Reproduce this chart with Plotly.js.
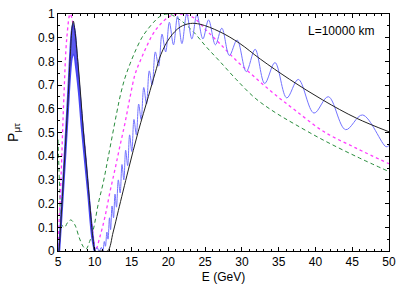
<!DOCTYPE html>
<html><head><meta charset="utf-8">
<script src="https://cdn.plot.ly/plotly-3.0.1.min.js"></script>
<style>html,body{margin:0;padding:0;background:#fff}#c{width:409px;height:286px}</style>
</head><body><div id="c"></div>
<script>
// Black solid curve
const blackE = [5.15, 5.6, 6.0, 6.4, 6.7, 6.9, 7.08, 7.3, 7.7, 8.1, 8.44, 8.9, 9.4, 9.8, 10.05, 10.9, 11.75, 12.5, 13.2, 14.56, 15.9, 17.28, 18.2, 19.0, 20.2, 21.6, 23.0, 24.3, 27.0, 29.7, 32.5, 36.5, 41.0, 45.6, 50.0];
const blackP = [0, 0.23, 0.44, 0.66, 0.84, 0.94, 0.97, 0.93, 0.8, 0.65, 0.51, 0.35, 0.17, 0.04, 0, 0, 0, 0.08, 0.17, 0.342, 0.503, 0.651, 0.75, 0.83, 0.90, 0.945, 0.96, 0.957, 0.925, 0.876, 0.81, 0.724, 0.637, 0.56, 0.503];

// Blue curve: fast oscillation band at low energy (upper / lower envelope)
const blueUpE = [5.1, 5.5, 5.9, 6.3, 6.6, 6.85, 7.05, 7.3, 7.6, 8.0, 8.4, 8.9, 9.4, 9.8, 10.0];
const blueUpP = [0, 0.2, 0.42, 0.64, 0.82, 0.93, 0.96, 0.93, 0.82, 0.66, 0.52, 0.35, 0.17, 0.05, 0];
const blueLoE = [5.2, 5.6, 6.0, 6.4, 6.7, 6.95, 7.15, 7.4, 7.8, 8.2, 8.6, 9.1, 9.6, 9.95];
const blueLoP = [0, 0.19, 0.39, 0.6, 0.75, 0.82, 0.83, 0.78, 0.67, 0.52, 0.39, 0.23, 0.06, 0];

// Blue curve: resolved oscillations (peaks and troughs)
const blueE = [10.0, 10.3, 10.6, 10.9, 11.1, 11.3, 11.45, 11.65, 11.8, 12.0, 12.15, 12.35, 12.55, 12.75, 12.95, 13.2, 13.45, 13.7, 13.95, 14.2, 14.47, 14.74, 15.03, 15.33, 15.65, 15.97, 16.3, 16.66, 17.03, 17.41, 17.8, 18.23, 18.68, 19.14, 19.64, 20.14, 20.7, 21.25, 21.85, 22.5, 23.2, 23.88, 24.7, 25.47, 26.4, 27.27, 28.3, 29.35, 30.6, 31.8, 33.1, 34.5, 36.1, 37.67, 39.8, 41.75, 44.1, 46.4, 49.6, 50.0];
const blueP = [0, 0.015, 0, 0.015, 0, 0.04, 0.02, 0.08, 0.05, 0.14, 0.09, 0.19, 0.14, 0.24, 0.185, 0.30, 0.245, 0.365, 0.30, 0.425, 0.36, 0.49, 0.42, 0.555, 0.49, 0.62, 0.555, 0.69, 0.62, 0.76, 0.70, 0.84, 0.78, 0.915, 0.84, 0.965, 0.87, 0.99, 0.875, 1.0, 0.895, 0.997, 0.895, 0.975, 0.87, 0.94, 0.825, 0.89, 0.757, 0.851, 0.707, 0.795, 0.646, 0.724, 0.582, 0.651, 0.512, 0.574, 0.44, 0.445];

// Green dashed curve
const greenE = [5.0, 5.25, 5.5, 5.9, 6.3, 6.75, 7.3, 7.9, 8.4, 8.8, 9.3, 9.8, 10.48, 11.16, 11.84, 12.97, 13.5, 14.1, 14.8, 15.6, 16.4, 17.06, 18.0, 18.87, 20.0, 21.6, 23.4, 25.2, 27.0, 29.2, 31.8, 34.5, 37.2, 41.07, 45.6, 50.0];
const greenP = [0.47, 0.25, 0.11, 0.1, 0.12, 0.131, 0.11, 0.055, 0.02, 0.008, 0.04, 0.09, 0.2, 0.29, 0.398, 0.581, 0.66, 0.73, 0.79, 0.85, 0.9, 0.93, 0.965, 0.99, 1.0, 0.975, 0.925, 0.86, 0.80, 0.725, 0.645, 0.585, 0.535, 0.468, 0.398, 0.335];

// Magenta dotted curve
const magE = [5.0, 5.4, 5.8, 6.2, 6.65, 7.1, 7.76, 8.2, 8.67, 9.12, 9.58, 9.94, 10.1, 10.7, 11.39, 12.07, 12.75, 13.4, 14.1, 14.8, 15.47, 16.15, 17.0, 17.9, 18.87, 20.2, 21.6, 23.4, 25.2, 27.0, 29.2, 31.7, 34.5, 37.2, 41.07, 45.6, 50.0];
const magP = [0.02, 0.3, 0.65, 0.9, 1.0, 0.95, 0.735, 0.58, 0.426, 0.257, 0.117, 0.03, 0, 0.06, 0.145, 0.25, 0.345, 0.44, 0.539, 0.65, 0.745, 0.8, 0.86, 0.915, 0.955, 0.99, 1.0, 0.985, 0.93, 0.875, 0.805, 0.735, 0.66, 0.595, 0.505, 0.433, 0.368];

const xTicks = [5, 10, 15, 20, 25, 30, 35, 40, 45, 50];
const yTicks = [0, 0.1, 0.2, 0.3, 0.4, 0.5, 0.6, 0.7, 0.8, 0.9, 1];
const labelText = 'L=10000 km';

const blueCol = 'rgb(115,115,255)';
const traces = [
  {x: greenE, y: greenP, mode: 'lines', line: {color: 'rgb(40,140,60)', width: 1, dash: '4px,3px', shape: 'spline'}},
  {x: magE, y: magP, mode: 'lines', line: {color: 'rgb(255,60,255)', width: 1.3, dash: 'dot', shape: 'spline'}},
  {x: blueUpE, y: blueUpP, mode: 'lines', line: {color: 'rgb(70,70,245)', width: 1.5, shape: 'spline'}},
  {x: blueLoE, y: blueLoP, mode: 'lines', fill: 'tonexty', fillcolor: 'rgba(50,50,235,0.8)', line: {color: 'rgb(70,70,245)', width: 1.5, shape: 'spline'}},
  {x: blueE, y: blueP, mode: 'lines', line: {color: blueCol, width: 1, shape: 'spline'}},
  {x: blackE, y: blackP, mode: 'lines', line: {color: '#222', width: 1, shape: 'spline'}}
];

const font = {family: '"Liberation Sans", Arial, sans-serif', size: 12, color: '#000'};
const layout = {
  width: 409, height: 286,
  margin: {l: 58, r: 20, t: 14, b: 35},
  showlegend: false,
  paper_bgcolor: '#fff', plot_bgcolor: '#fff',
  font: font,
  xaxis: {
    range: [5, 50], tickvals: xTicks, ticktext: xTicks.map(String),
    ticks: 'inside', ticklen: 4, tickcolor: '#000', showgrid: false, zeroline: false,
    showline: true, mirror: 'ticks', linecolor: '#000', linewidth: 1,
    minor: {dtick: 1, ticks: 'inside', ticklen: 2, tickcolor: '#000', showgrid: false},
    title: {text: 'E (GeV)', font: font, standoff: 4},
    tickfont: font
  },
  yaxis: {
    range: [0, 1], tickvals: yTicks, ticktext: yTicks.map(String),
    ticks: 'inside', ticklen: 4, tickcolor: '#000', showgrid: false, zeroline: false,
    showline: true, mirror: 'ticks', linecolor: '#000', linewidth: 1,
    minor: {dtick: 0.05, ticks: 'inside', ticklen: 2, tickcolor: '#000', showgrid: false},
    title: {text: 'P<sub>μτ</sub>', font: {family: font.family, size: 14, color: '#000'}, standoff: 16},
    tickfont: font
  },
  annotations: [{
    text: labelText, xref: 'paper', yref: 'paper', x: 0.961, y: 0.928,
    xanchor: 'right', yanchor: 'middle', showarrow: false, font: font
  }]
};
Plotly.newPlot('c', traces, layout, {staticPlot: true, displayModeBar: false});
</script></body></html>
